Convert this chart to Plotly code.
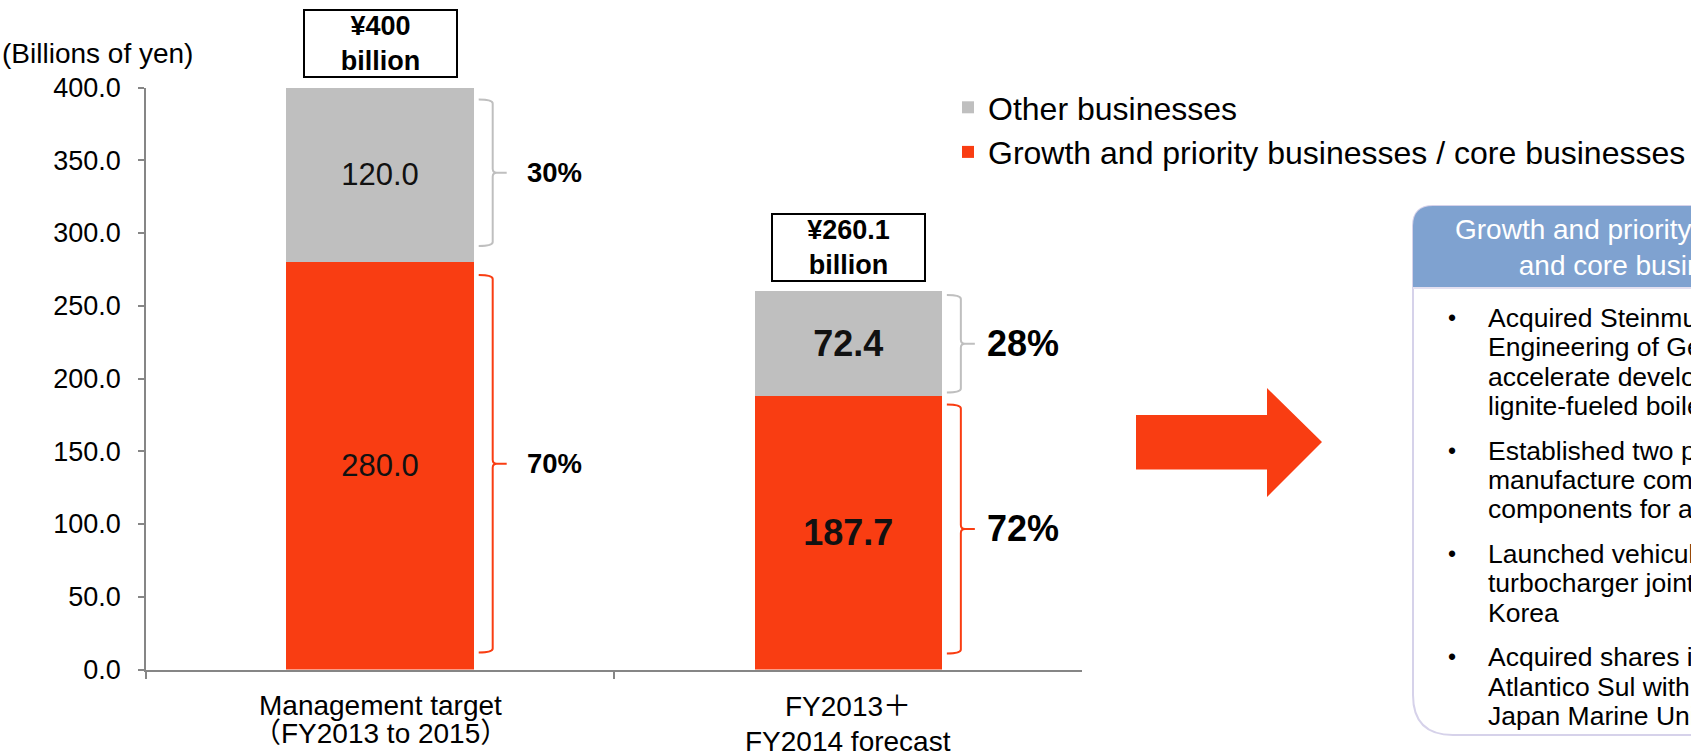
import plotly.graph_objects as go

# ---------------- data ----------------
categories = ["Management target<br>（FY2013 to 2015）", "FY2013＋<br>FY2014 forecast"]
growth_values = [280.0, 187.7]
other_values = [120.0, 72.4]
series_names = ["Growth and priority businesses / core businesses", "Other businesses"]
y_ticks = [0, 50, 100, 150, 200, 250, 300, 350, 400]
box_header = "Growth and priority businesses<br>and core businesses"
box_items = [
    ["Acquired Steinmuller", "Engineering of Germany to", "accelerate development of", "lignite-fueled boilers"],
    ["Established two plants to", "manufacture composite", "components for aircraft engines"],
    ["Launched vehicular", "turbocharger joint venture in", "Korea"],
    ["Acquired shares in Estaleiro", "Atlantico Sul with", "Japan Marine United"],
]

# ---------------- style / layout ----------------
W, H = 1691, 751
FONT = "Liberation Sans, Arial, Noto Sans CJK JP, sans-serif"
RED = "#F93D12"
GRAY = "#BFBFBF"
AXIS = "#868686"
X0, X1 = 146.0, 1082.3      # plot area, px
YT, YB = 87.5, 669.5
BAR_W = 0.4
CAT_LINE_Y = [[705, 733], [706, 741]]   # px centres of the category label lines

def px(x):
    return x / W

def py(y):
    return 1 - y / H

unit_x = (X1 - X0) / 2.0          # px per category
unit_y = (YB - YT) / 400.0         # px per value unit

fig = go.Figure()
fig.add_trace(go.Bar(
    x=categories, y=growth_values, name=series_names[0], marker=dict(color=RED, line=dict(width=0)),
    width=BAR_W, texttemplate=["%{y:.1f}", "<b>%{y:.1f}</b>"], textposition="inside",
    insidetextanchor="middle", textangle=0, constraintext="none",
    textfont=dict(family=FONT, size=[31, 36], color="#111111"), hoverinfo="skip"))
fig.add_trace(go.Bar(
    x=categories, y=other_values, name=series_names[1], marker=dict(color=GRAY, line=dict(width=0)),
    width=BAR_W, texttemplate=["%{y:.1f}", "<b>%{y:.1f}</b>"], textposition="inside",
    insidetextanchor="middle", textangle=0, constraintext="none",
    textfont=dict(family=FONT, size=[31, 36], color="#111111"), hoverinfo="skip"))

shapes = []
annotations = []

# category labels (one annotation per line, placed under each category)
for i, cat in enumerate(categories):
    for k, ln in enumerate(cat.split("<br>")):
        annotations.append(dict(x=cat, y=py(CAT_LINE_Y[i][k]), xref="x", yref="paper",
                                xanchor="center", yanchor="middle", showarrow=False, text=ln,
                                font=dict(family=FONT, size=28, color="#000000")))

# total boxes above bars
totals = [g + o for g, o in zip(growth_values, other_values)]
for i, t in enumerate(totals):
    annotations.append(dict(
        x=i, y=t, xref="x", yref="y", yanchor="bottom", yshift=9,
        text=f"<b>¥{t:g}<br>billion</b>", showarrow=False,
        font=dict(family=FONT, size=27, color="#000000"),
        bordercolor="#000000", borderwidth=2, borderpad=0, bgcolor="#FFFFFF",
        width=151, height=65, align="center"))

# brackets and percentages
pct_sizes = [27.5, 36]
pct_gap = [18, 10]
insets = {  # (top inset, bottom inset) in px for each bracket
    (0, "o"): (12, 16), (0, "g"): (13, 17),
    (1, "o"): (4, 4), (1, "g"): (8, 16),
}

def bracket(i, lo, hi, color, inset):
    right = i + BAR_W / 2
    xa = right + 5 / unit_x
    xb = right + 19 / unit_x
    xc = right + 33 / unit_x
    rx = 4 / unit_x
    ry = 4 / unit_y
    top = hi - inset[0] / unit_y
    bot = lo + inset[1] / unit_y
    mid = (top + bot) / 2
    path = (f"M {xa},{top} Q {xb},{top} {xb},{top - ry} L {xb},{mid + ry} "
            f"Q {xb},{mid} {xb + rx},{mid} L {xc},{mid} M {xb + rx},{mid} "
            f"Q {xb},{mid} {xb},{mid - ry} L {xb},{bot + ry} Q {xb},{bot} {xa},{bot}")
    shapes.append(dict(type="path", path=path, xref="x", yref="y",
                       line=dict(color=color, width=2)))
    return xc, mid

for i in range(len(categories)):
    g, o, t = growth_values[i], other_values[i], totals[i]
    for key, lo, hi, color, val in [("o", g, t, GRAY, o), ("g", 0, g, RED, g)]:
        xc, mid = bracket(i, lo, hi, color, insets[(i, key)])
        annotations.append(dict(
            x=xc + pct_gap[i] / unit_x, y=mid, xref="x", yref="y", xanchor="left",
            yanchor="middle", showarrow=False, text=f"<b>{round(100 * val / t)}%</b>",
            font=dict(family=FONT, size=pct_sizes[i], color="#000000")))

# y-axis unit label
annotations.append(dict(x=0, y=py(53), xref="paper", yref="paper", xanchor="left",
                        yanchor="middle", showarrow=False, text="(Billions of yen)",
                        font=dict(family=FONT, size=28, color="#000000")))

# arrow
arrow_pts = [(1136, 415), (1267, 415), (1267, 388), (1322, 442), (1267, 497), (1267, 469.5), (1136, 469.5)]
path = "M " + " L ".join(f"{px(a)},{py(b)}" for a, b in arrow_pts) + " Z"
shapes.append(dict(type="path", path=path, xref="paper", yref="paper",
                   fillcolor=RED, line=dict(width=0)))

# info box
bx0, bx1, by0, by1, hb = 1413, 1880, 206, 735, 287
rt, rb = 20, 40
box_path = (f"M {px(bx0 + rt)},{py(by0)} L {px(bx1)},{py(by0)} L {px(bx1)},{py(by1)} "
            f"L {px(bx0 + rb)},{py(by1)} Q {px(bx0)},{py(by1)} {px(bx0)},{py(by1 - rb)} "
            f"L {px(bx0)},{py(by0 + rt)} Q {px(bx0)},{py(by0)} {px(bx0 + rt)},{py(by0)} Z")
shapes.append(dict(type="path", path=box_path, xref="paper", yref="paper",
                   fillcolor="#FFFFFF", line=dict(color="#D6D2EA", width=2)))
head_path = (f"M {px(bx0 + rt)},{py(by0)} L {px(bx1)},{py(by0)} L {px(bx1)},{py(hb)} "
             f"L {px(bx0)},{py(hb)} L {px(bx0)},{py(by0 + rt)} "
             f"Q {px(bx0)},{py(by0)} {px(bx0 + rt)},{py(by0)} Z")
shapes.append(dict(type="path", path=head_path, xref="paper", yref="paper",
                   fillcolor="#7FA2D0", line=dict(width=0)))
shapes.append(dict(type="line", x0=px(bx0), x1=px(bx1), y0=py(hb + 1), y1=py(hb + 1),
                   xref="paper", yref="paper", line=dict(color="#E4E0F0", width=2)))
annotations.append(dict(x=px((bx0 + bx1) / 2), y=py((by0 + hb) / 2 + 1), xref="paper", yref="paper",
                        xanchor="center", yanchor="middle", showarrow=False, text=box_header,
                        font=dict(family=FONT, size=28, color="#FFFFFF"), align="center"))

line_y = 318.0
for item in box_items:
    annotations.append(dict(x=px(1452), y=py(line_y), xref="paper", yref="paper",
                            xanchor="center", yanchor="middle", showarrow=False, text="•",
                            font=dict(family=FONT, size=23, color="#000000")))
    for k, ln in enumerate(item):
        annotations.append(dict(x=px(1486), y=py(line_y), xref="paper", yref="paper",
                                xanchor="left", yanchor="middle", showarrow=False, text=ln,
                                font=dict(family=FONT, size=26.5, color="#000000")))
        line_y += 29.3
    line_y += 15.5

fig.update_layout(
    width=W, height=H, barmode="stack", bargap=0.6,
    paper_bgcolor="#FFFFFF", plot_bgcolor="#FFFFFF",
    margin=dict(l=0, r=0, t=0, b=0, autoexpand=False),
    font=dict(family=FONT, color="#000000"),
    showlegend=True,
    legend=dict(x=px(948), y=py(80), xanchor="left", yanchor="top", traceorder="reversed",
                font=dict(family=FONT, size=32, color="#000000"), bgcolor="rgba(0,0,0,0)",
                itemwidth=30, tracegroupgap=0),
    xaxis=dict(domain=[px(X0), px(X1)], type="category", tickson="boundaries",
               ticks="outside", ticklen=8, tickwidth=1.5, tickcolor=AXIS,
               showline=True, linecolor=AXIS, linewidth=1.5, showgrid=False,
               showticklabels=False, fixedrange=True),
    yaxis=dict(domain=[py(YB), py(YT)], range=[0, 400], tickvals=y_ticks, tickformat=".1f",
               ticks="outside", ticklen=6, tickwidth=1.5, tickcolor=AXIS,
               showline=True, linecolor=AXIS, linewidth=1.5, showgrid=False, zeroline=False,
               tickfont=dict(family=FONT, size=27, color="#000000"),
               ticklabelstandoff=12, fixedrange=True),
    shapes=shapes, annotations=annotations,
)

fig.write_html("out.html", config={"displayModeBar": False},
               post_script="document.body.style.margin='0';document.body.style.overflow='hidden';")
